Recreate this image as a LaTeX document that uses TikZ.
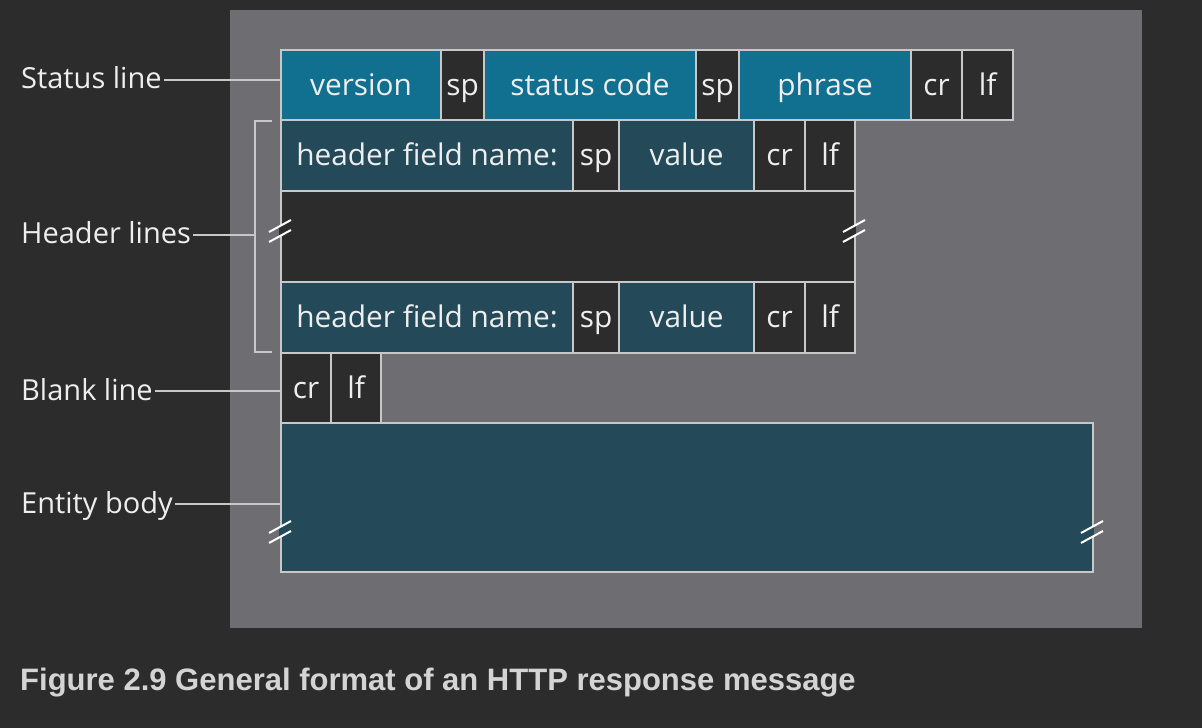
\documentclass[tikz,border=0pt]{standalone}
\usepackage{fontspec}
\setmainfont{Open Sans}
\newfontfamily\capfont{Liberation Sans}
\definecolor{bgc}{HTML}{2C2C2C}
\definecolor{panelc}{HTML}{6E6E72}
\definecolor{stblue}{HTML}{11708F}
\definecolor{hdteal}{HTML}{244A5A}
\definecolor{edgec}{HTML}{C8C8C8}
\definecolor{txtc}{HTML}{EEEEEE}
\definecolor{capc}{HTML}{D4D4D4}
\tikzset{
  fld/.style={draw=edgec, line width=2.2pt, inner sep=0pt, anchor=north west, text=txtc,
    font=\fontsize{29.8}{31}\selectfont, text height=22pt, text depth=2pt},
  lbl/.style={anchor=base west, inner sep=0pt, text=txtc, font=\fontsize{29}{31}\selectfont},
  lead/.style={draw=edgec, line width=1.8pt},
  brk/.style={draw=white, line width=2pt},
}
\begin{document}
\begin{tikzpicture}[x=1pt,y=-1pt]
\fill[bgc] (0,0) rectangle (1202,728);
\useasboundingbox (0,0) rectangle (1202,728);
\fill[panelc] (230,10) rectangle (1142,628);
% status line
\node[fld, fill=stblue, minimum width=160pt, minimum height=70pt] (ver) at (280,49) {version};
\node[fld, fill=bgc, minimum width=43pt, minimum height=70pt] (sp1) at (440,49) {sp};
\node[fld, fill=stblue, minimum width=212pt, minimum height=70pt] (sc) at (483,49) {status code};
\node[fld, fill=bgc, minimum width=43pt, minimum height=70pt] (sp2) at (695,49) {sp};
\node[fld, fill=stblue, minimum width=172pt, minimum height=70pt] (ph) at (738,49) {phrase};
\node[fld, fill=bgc, minimum width=51pt, minimum height=70pt] (cr1) at (910,49) {cr};
\node[fld, fill=bgc, minimum width=51pt, minimum height=70pt] (lf1) at (961,49) {lf};
% header line 1
\node[fld, fill=hdteal, minimum width=292pt, minimum height=71pt] (hn1) at (280,119) {header field name:};
\node[fld, fill=bgc, minimum width=46pt, minimum height=71pt] (hs1) at (572,119) {sp};
\node[fld, fill=hdteal, minimum width=135pt, minimum height=71pt] (hv1) at (618,119) {value};
\node[fld, fill=bgc, minimum width=51pt, minimum height=71pt] (hc1) at (753,119) {cr};
\node[fld, fill=bgc, minimum width=50pt, minimum height=71pt] (hl1) at (804,119) {lf};
% gap row
\node[fld, fill=bgc, minimum width=574pt, minimum height=91pt] (gap) at (280,190) {};
% header line 2
\node[fld, fill=hdteal, minimum width=292pt, minimum height=71pt] (hn2) at (280,281) {header field name:};
\node[fld, fill=bgc, minimum width=46pt, minimum height=71pt] (hs2) at (572,281) {sp};
\node[fld, fill=hdteal, minimum width=135pt, minimum height=71pt] (hv2) at (618,281) {value};
\node[fld, fill=bgc, minimum width=51pt, minimum height=71pt] (hc2) at (753,281) {cr};
\node[fld, fill=bgc, minimum width=50pt, minimum height=71pt] (hl2) at (804,281) {lf};
% blank line
\node[fld, fill=bgc, minimum width=50pt, minimum height=70pt] (bc) at (280,352) {cr};
\node[fld, fill=bgc, minimum width=50pt, minimum height=70pt] (bl) at (330,352) {lf};
% entity body
\node[fld, fill=hdteal, minimum width=812pt, minimum height=149pt] (ent) at (280,422) {};
% break marks
\foreach \bx/\by/\fc in {280/231/bgc, 854/231/bgc, 280/532/hdteal, 1092/532/hdteal}{
  \draw[\fc, line width=3pt] (\bx,\by-5) -- (\bx,\by+5);
  \draw[brk] (\bx-11,\by+1) -- (\bx+11,\by-11);
  \draw[brk] (\bx-11,\by+11) -- (\bx+11,\by-1);
}
% labels
\node[lbl] (ls) at (21,88) {Status line};
\node[lbl] (lh) at (21,243) {Header lines};
\node[lbl] (lb) at (21,400) {Blank line};
\node[lbl] (le) at (21,513) {Entity body};
\coordinate (bt) at (255,121);
\coordinate (bb) at (255,352);
\draw[lead] (272,121) -- (bt) -- (bb) -- (272,352);
\draw[lead] ([xshift=2pt]ls.east |- 0,80) -- (ver.west |- 0,80);
\draw[lead] ([xshift=2pt]lh.east |- 0,235) -- (bt |- 0,235);
\draw[lead] ([xshift=2pt]lb.east |- 0,391) -- (bc.west |- 0,391);
\draw[lead] ([xshift=2pt]le.east |- 0,504) -- (ent.west |- 0,504);
% caption
\node[anchor=base west, inner sep=0pt, text=capc, font=\capfont\bfseries\fontsize{31}{33}\selectfont] (cap) at (20,690) {Figure 2.9 General format of an HTTP response message};
\end{tikzpicture}
\end{document}
